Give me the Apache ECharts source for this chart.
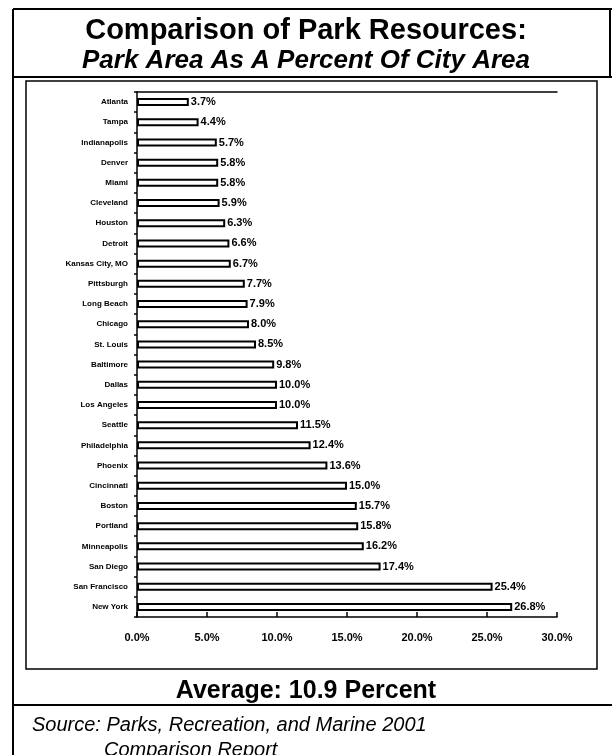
<!DOCTYPE html>
<html>
<head>
<meta charset="utf-8">
<script src="https://cdn.jsdelivr.net/npm/echarts@6/dist/echarts.min.js"></script>
<style>
html,body{margin:0;padding:0;background:#fff;}
#chart{width:612px;height:755px;}
</style>
</head>
<body>
<div id="chart"></div>
<script>
const cities = ["Atlanta","Tampa","Indianapolis","Denver","Miami","Cleveland","Houston","Detroit","Kansas City, MO","Pittsburgh","Long Beach","Chicago","St. Louis","Baltimore","Dallas","Los Angeles","Seattle","Philadelphia","Phoenix","Cincinnati","Boston","Portland","Minneapolis","San Diego","San Francisco","New York"];
const parkPercent = [3.7,4.4,5.7,5.8,5.8,5.9,6.3,6.6,6.7,7.7,7.9,8.0,8.5,9.8,10.0,10.0,11.5,12.4,13.6,15.0,15.7,15.8,16.2,17.4,25.4,26.8];
const axisMin = 0, axisMax = 30, axisStep = 5;
const titleMain = "Comparison of Park Resources:";
const titleSub = "Park Area As A Percent Of City Area";
const averageText = "Average: 10.9 Percent";
const sourceLine1 = "Source: Parks, Recreation, and Marine 2001";
const sourceLine2 = "Comparison Report";

const FF = "'Liberation Sans', Arial, Helvetica, sans-serif";
const chart = echarts.init(document.getElementById('chart'), null, {renderer:'canvas'});
chart.setOption({
  backgroundColor:'#fff',
  animation:false,
  title:[
    {text:titleMain, left:'center', top:11, textStyle:{fontFamily:FF, fontWeight:'bold', fontSize:29, color:'#000'}},
    {text:titleSub, left:'center', top:43, textStyle:{fontFamily:FF, fontWeight:'bold', fontStyle:'italic', fontSize:26, color:'#000'}},
    {text:averageText, left:'center', top:674, textStyle:{fontFamily:FF, fontWeight:'bold', fontSize:25, color:'#000'}},
    {text:sourceLine1, left:27, top:710, textStyle:{fontFamily:FF, fontStyle:'italic', fontWeight:'normal', fontSize:20, color:'#000'}},
    {text:sourceLine2, left:99, top:735, textStyle:{fontFamily:FF, fontStyle:'italic', fontWeight:'normal', fontSize:20, color:'#000'}}
  ],
  graphic:[
    {type:'line', shape:{x1:13,y1:9,x2:612,y2:9}, style:{stroke:'#000', lineWidth:2}},
    {type:'line', shape:{x1:13,y1:9,x2:13,y2:755}, style:{stroke:'#000', lineWidth:2}},
    {type:'line', shape:{x1:610,y1:9,x2:610,y2:77}, style:{stroke:'#000', lineWidth:2}},
    {type:'line', shape:{x1:13,y1:77,x2:612,y2:77}, style:{stroke:'#000', lineWidth:2}},
    {type:'rect', shape:{x:26,y:81,width:571,height:588}, style:{fill:null, stroke:'#000', lineWidth:1.5}},
    {type:'line', shape:{x1:13,y1:705,x2:612,y2:705}, style:{stroke:'#000', lineWidth:2}}
  ],
  grid:{left:137, top:92, right:55, bottom:138, containLabel:false},
  xAxis:[
    {type:'value', min:axisMin, max:axisMax, interval:axisStep, position:'bottom',
     axisLine:{show:true, lineStyle:{color:'#000', width:1.5}},
     axisTick:{show:true, inside:true, length:5, lineStyle:{color:'#000', width:1.5}},
     splitLine:{show:false},
     axisLabel:{margin:15, color:'#000', fontFamily:FF, fontWeight:'bold', fontSize:11, formatter:v=>v.toFixed(1)+'%'}},
    {type:'value', min:axisMin, max:axisMax, interval:axisStep, position:'top',
     axisLine:{show:true, onZero:false, lineStyle:{color:'#000', width:1.5}},
     axisTick:{show:false}, axisLabel:{show:false}, splitLine:{show:false}}
  ],
  yAxis:{type:'category', data:cities, inverse:true,
    axisLine:{show:true, lineStyle:{color:'#000', width:1.5}},
    axisTick:{show:true, alignWithLabel:false, length:3, lineStyle:{color:'#000', width:1.5}},
    axisLabel:{margin:9, color:'#000', fontFamily:FF, fontWeight:'bold', fontSize:8}},
  series:[{type:'bar', data:parkPercent, barWidth:8, xAxisIndex:0,
    itemStyle:{color:'#fff', borderColor:'#000', borderWidth:2},
    label:{show:true, position:'right', distance:2, color:'#000', fontFamily:FF, fontWeight:'bold', fontSize:11,
      formatter:p=>p.value.toFixed(1)+'%'}}]
});
</script>
</body>
</html>
